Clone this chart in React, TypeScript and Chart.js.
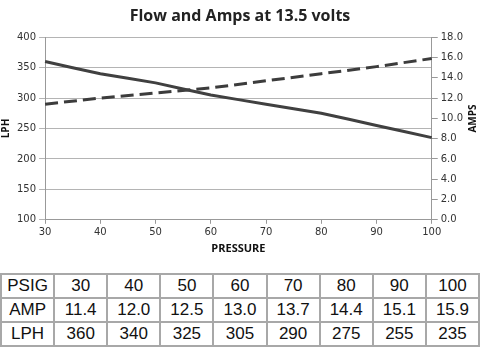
import React, { useEffect, useRef } from "react";
import { Chart, registerables } from "chart.js";

Chart.register(...registerables);

const psig = [30, 40, 50, 60, 70, 80, 90, 100];
const ampValues = [11.4, 12.0, 12.5, 13.0, 13.7, 14.4, 15.1, 15.9];
const lphValues = [360, 340, 325, 305, 290, 275, 255, 235];
const ampLabels = ["11.4", "12.0", "12.5", "13.0", "13.7", "14.4", "15.1", "15.9"];

const tickFont = { family: "'DejaVu Sans', Verdana, sans-serif", size: 10 };
const boldFont = { family: "'Open Sans', sans-serif", size: 10, weight: "bold" as const };

// Draw the right axis title reading bottom-to-top (as in the reference)
const rightTitlePlugin = {
  id: "rightTitle",
  afterDraw(chart: any) {
    const s = chart.scales.y1;
    if (!s) return;
    const ctx = chart.ctx;
    const area = chart.chartArea;
    ctx.save();
    ctx.font = "bold 10px 'Open Sans', sans-serif";
    ctx.fillStyle = "#111";
    ctx.textAlign = "center";
    ctx.textBaseline = "middle";
    ctx.translate(s.right - 7, (area.top + area.bottom) / 2 - 10);
    ctx.rotate(-Math.PI / 2);
    ctx.fillText("AMPS", 0, 0);
    ctx.restore();
  },
};

export default function App() {
  const ref = useRef<HTMLCanvasElement | null>(null);

  useEffect(() => {
    if (!ref.current) return;
    const chart = new Chart(ref.current, {
      type: "line",
      data: {
        labels: psig.map(String),
        datasets: [
          {
            label: "LPH",
            data: lphValues,
            yAxisID: "y",
            borderColor: "#404040",
            borderWidth: 3,
            pointRadius: 0,
            tension: 0.1,
          },
          {
            label: "AMPS",
            data: ampValues,
            yAxisID: "y1",
            borderColor: "#3c3c3c",
            borderWidth: 3,
            borderDash: [13, 6],
            pointRadius: 0,
            tension: 0,
          },
        ],
      },
      plugins: [rightTitlePlugin],
      options: {
        animation: false,
        responsive: false,
        layout: { padding: { left: 0, right: 0, top: 0, bottom: 0 } },
        plugins: {
          legend: { display: false },
          tooltip: { enabled: false },
          title: {
            display: true,
            text: "Flow and Amps at 13.5 volts",
            color: "#222",
            font: { family: "'Open Sans', sans-serif", size: 16, weight: "bold" },
            padding: { top: 7, bottom: 11 },
          },
        },
        scales: {
          x: {
            type: "category",
            offset: false,
            grid: {
              display: true,
              drawOnChartArea: false,
              drawTicks: true,
              tickLength: 4,
              color: "#999",
            },
            border: { color: "#999", width: 1 },
            ticks: { font: tickFont, color: "#333", padding: 3, maxRotation: 0 },
            title: {
              display: true,
              text: "PRESSURE",
              color: "#111",
              font: { family: "'Open Sans', sans-serif", size: 11, weight: "bold" },
              padding: { top: 0, bottom: 0 },
            },
          },
          y: {
            position: "left",
            min: 100,
            max: 400,
            ticks: { stepSize: 50, font: tickFont, color: "#333", padding: 3 },
            grid: { color: "#b4b4b4", lineWidth: 1, tickLength: 6 },
            border: { color: "#999" },
            title: {
              display: true,
              text: "LPH",
              color: "#111",
              font: boldFont,
              padding: { top: 0, bottom: 2 },
            },
          },
          y1: {
            position: "right",
            min: 0,
            max: 18,
            ticks: {
              stepSize: 2,
              font: tickFont,
              color: "#333",
              padding: 3,
              callback: (v: any) => Number(v).toFixed(1),
            },
            grid: { drawOnChartArea: false, color: "#999", tickLength: 6 },
            border: { color: "#999" },
            title: {
              display: true,
              text: "AMPS",
              color: "rgba(0,0,0,0)",
              font: boldFont,
              padding: { top: 2, bottom: 0 },
            },
          },
        },
      },
    });
    return () => chart.destroy();
  }, []);

  const cell: React.CSSProperties = {
    border: "2px solid #a8a8a8",
    textAlign: "center",
    height: 22,
    padding: 0,
    fontFamily: "'Liberation Sans', Arial, sans-serif",
    fontSize: 17,
    color: "#111",
  };

  const rows: [string, string[]][] = [
    ["PSIG", psig.map(String)],
    ["AMP", ampLabels],
    ["LPH", lphValues.map(String)],
  ];

  return (
    <div style={{ position: "absolute", left: 0, top: 0, width: 480, height: 352, background: "#fff", overflow: "hidden" }}>
      <canvas ref={ref} width={480} height={255} style={{ display: "block", width: 480, height: 255 }} />
      <table
        style={{
          position: "absolute",
          left: 0,
          top: 273,
          width: 480,
          borderCollapse: "collapse",
          tableLayout: "fixed",
        }}
      >
        <tbody>
          {rows.map(([head, vals]) => (
            <tr key={head}>
              <td style={cell}>{head}</td>
              {vals.map((v, i) => (
                <td key={i} style={cell}>{v}</td>
              ))}
            </tr>
          ))}
        </tbody>
      </table>
    </div>
  );
}
